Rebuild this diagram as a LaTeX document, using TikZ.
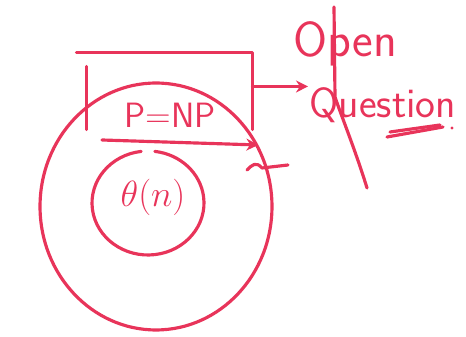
\documentclass[tikz,border=0pt]{standalone}
\usepackage{amssymb}
\usepackage{amsmath}
\usepackage{tikz}
\usetikzlibrary{arrows.meta, positioning, calc, shapes.geometric}
\usepackage{xcolor}
\definecolor{marker}{RGB}{232,52,90}

\begin{document}
\begin{tikzpicture}[
        x=0.02cm, y=0.02cm,
        line width=1.8pt, color=marker,
        line cap=round, line join=round,
        ring/.style={draw, ellipse, inner sep=0pt},
        hand/.style={inner sep=0pt, font=\sffamily\fontsize{#1}{#1}\selectfont},
        arrow/.style={-{Stealth[length=2.4mm, width=2.4mm]}}
    ]
    \useasboundingbox (0,0) rectangle (466,337);
    \node[ring, minimum width=4.64cm, minimum height=4.94cm] (outer) at (156,130.5) {};
    \node[ring, draw=none, minimum width=2.24cm, minimum height=2.08cm] (inner) at (148,134) {};
    \draw ($(inner.center)+(97:1.12cm and 1.04cm)$) arc[start angle=97, end angle=443, x radius=1.12cm, y radius=1.04cm];
    \node[hand=20] (theta) at (153,140) {$\theta(n)$};
    \node[minimum width=3.26cm, minimum height=1.48cm, inner sep=0pt] (box) at (169.5,246) {};
    \draw ([xshift=-0.2cm]box.north west) -- (box.north east) -- (box.south east);
    \draw ([yshift=-0.28cm]box.north west) -- (box.south west);
    \node[hand=20] (pnp) at (170,222) {P=NP};
    \coordinate (tail) at (102,197);
    \draw[arrow] (tail) -- (outer.31);
    \draw (247,167) .. controls (252,172) and (256,176) .. (262,169) -- (288,172);
    \node[hand=28, anchor=base west] (open) at (292,280) {Open};
    \node[hand=24, anchor=base west] (question) at (308,219) {Question};
    \draw[arrow] (question.north west -| box.east) -- (question.north west);
    \draw (334,330) -- (335,240) .. controls (341,222) and (356,185) .. (367,149);
    \draw (387,200) -- (443,210);
    \draw (390,205) -- (440,212);
    \fill (452,209) circle (1.6);
\end{tikzpicture}
\end{document}
